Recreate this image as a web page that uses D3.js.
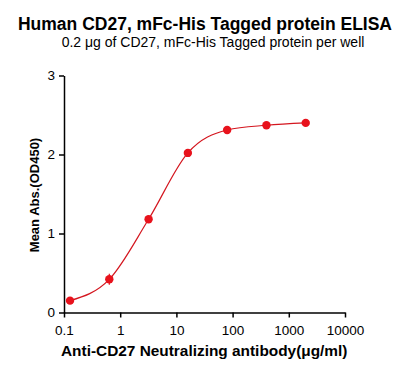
<!DOCTYPE html>
<html>
<head>
<meta charset="utf-8">
<script src="https://cdn.jsdelivr.net/npm/d3@7"></script>
<style>
  body { margin: 0; background: #fff; }
  text { font-family: "Liberation Sans", Arial, sans-serif; fill: #000; }
</style>
</head>
<body>
<svg id="chart" width="410" height="375"></svg>
<script>
// data
const concentrations = [0.128, 0.64, 3.2, 16, 80, 400, 2000];
const meanAbs = [0.15, 0.42, 1.18, 2.02, 2.31, 2.37, 2.40];
const errAbs = [0.01, 0.07, 0.02, 0.03, 0.02, 0.01, 0.01];
const xTicks = [0.1, 1, 10, 100, 1000, 10000];
const xTickLabels = ['0.1', '1', '10', '100', '1000', '10000'];
const yTicks = [0, 1, 2, 3];

const svg = d3.select('#chart');
const red = '#e8121c';

const x = d3.scaleLog().domain([0.1, 10000]).range([64, 345]);
const y = d3.scaleLinear().domain([0, 3]).range([312.5, 75.5]);

// titles
svg.append('text')
  .attr('x', 205).attr('y', 30)
  .attr('text-anchor', 'middle')
  .style('font-size', '17.5px').style('font-weight', 'bold')
  .text('Human CD27, mFc-His Tagged protein ELISA');
svg.append('text')
  .attr('x', 213).attr('y', 47)
  .attr('text-anchor', 'middle')
  .style('font-size', '14px')
  .text('0.2 \u03bcg of CD27, mFc-His Tagged protein per well');

// axes
const xAxis = svg.append('g')
  .attr('transform', `translate(0,${y(0)})`)
  .call(d3.axisBottom(x).tickValues(xTicks).tickFormat((d, i) => xTickLabels[i]).tickSize(5).tickSizeOuter(0));
const yAxis = svg.append('g')
  .attr('transform', `translate(${x(0.1)},0)`)
  .call(d3.axisLeft(y).tickValues(yTicks).tickFormat(d3.format('d')).tickSize(5).tickSizeOuter(0));

[xAxis, yAxis].forEach(g => {
  g.select('.domain').attr('stroke', '#000').attr('stroke-width', 1.5);
  g.selectAll('.tick line').attr('stroke', '#000').attr('stroke-width', 1.5);
  g.selectAll('.tick text').style('font-size', '13.5px').style('font-family', '"Liberation Sans", Arial, sans-serif').attr('fill', '#000');
});
xAxis.selectAll('.tick text').attr('dy', '1.05em');
yAxis.selectAll('.tick text').attr('x', -9);

// axis labels
svg.append('text')
  .attr('transform', 'translate(39,195) rotate(-90)')
  .attr('text-anchor', 'middle')
  .style('font-size', '13px').style('font-weight', 'bold')
  .text('Mean Abs.(OD450)');
svg.append('text')
  .attr('x', 61).attr('y', 356)
  .style('font-size', '15.4px').style('font-weight', 'bold')
  .text('Anti-CD27 Neutralizing antibody(\u03bcg/ml)');

// fitted curve through the points
const pts = concentrations.map((c, i) => [c, meanAbs[i]]);
svg.append('path')
  .datum(pts)
  .attr('fill', 'none')
  .attr('stroke', '#d4161f')
  .attr('stroke-width', 1.2)
  .attr('d', d3.line().x(d => x(d[0])).y(d => y(d[1])).curve(d3.curveMonotoneX));

// error bars
svg.selectAll('line.err')
  .data(pts)
  .join('line')
  .attr('class', 'err')
  .attr('x1', d => x(d[0])).attr('x2', d => x(d[0]))
  .attr('y1', (d, i) => y(d[1] - errAbs[i]))
  .attr('y2', (d, i) => y(d[1] + errAbs[i]))
  .attr('stroke', red).attr('stroke-width', 1.2);

// points
svg.selectAll('circle.pt')
  .data(pts)
  .join('circle')
  .attr('class', 'pt')
  .attr('cx', d => x(d[0]))
  .attr('cy', d => y(d[1]))
  .attr('r', 4.2)
  .attr('fill', red);
</script>
</body>
</html>
